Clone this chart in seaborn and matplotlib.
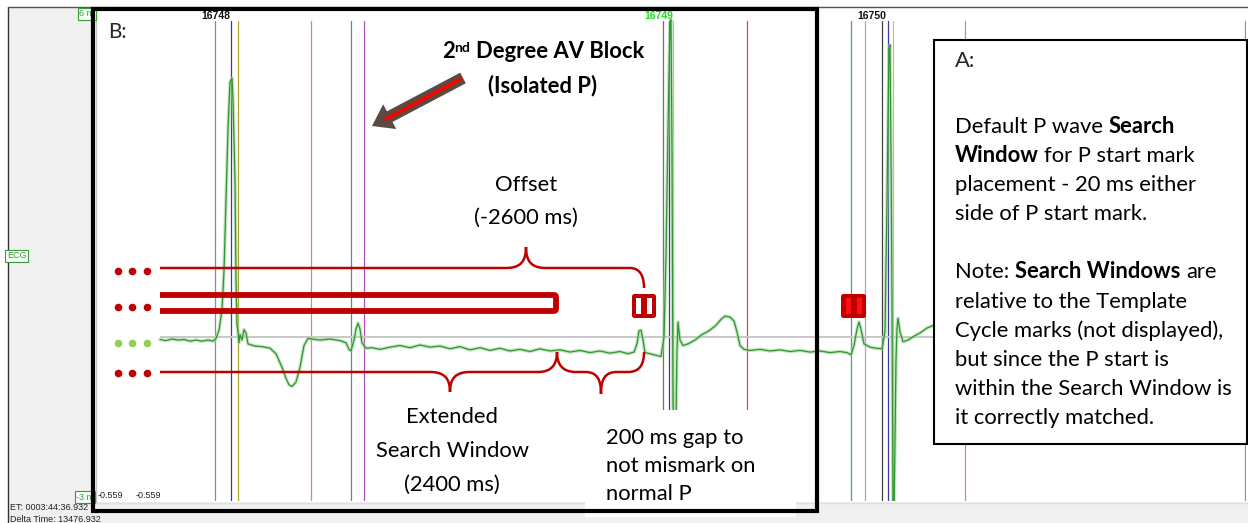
import matplotlib
matplotlib.use("Agg")
import matplotlib.pyplot as plt
import seaborn as sns
from matplotlib.patches import Rectangle, FancyBboxPatch, FancyArrow, PathPatch
from matplotlib.path import Path

sns.set_style("white")
plt.rcParams['font.family'] = ['Lato', 'DejaVu Sans']

# ---------------- data ----------------
# ECG trace: sample position (screen time units) and amplitude in mV
ecg_t = [160, 166, 172, 178, 184, 190, 196, 202, 208, 213,
         216, 219, 222, 224, 226, 228, 230, 232, 233, 235,
         236, 237, 238, 239, 240, 242, 244, 246, 248, 255,
         262, 270, 276, 282, 286, 289, 292, 296, 300, 304,
         308, 312, 320, 330, 340, 346, 349, 351, 354, 356,
         358, 360, 362, 366, 372, 380, 390, 400, 410, 420,
         430, 440, 450, 460, 470, 480, 490, 500, 510, 520,
         530, 540, 550, 560, 570, 580, 590, 600, 610, 620,
         628, 634, 637, 639, 641, 643, 645, 650, 656, 661,
         664, 666, 668, 670, 671, 672, 673, 674, 675, 676,
         677, 678, 680, 683, 688, 695, 702, 709, 716, 721,
         725, 730, 734, 737, 740, 744, 750, 760, 770, 780,
         790, 800, 810, 820, 830, 840, 847, 851, 854, 857,
         859, 861, 864, 870, 876, 882, 885, 887, 888, 889,
         890, 891, 892, 893, 894, 895, 896, 897, 898, 900,
         903, 908, 914, 920, 927, 936]
ecg_mv = [-0.04, -0.06, -0.03, -0.05, -0.04, -0.07, -0.05, -0.07, -0.05, -0.07,
          -0.02, 0.13, 0.50, 1.22, 2.51, 3.80, 4.68, 4.75, 4.35, 2.88,
          1.05, 0.23, 0.10, -0.10, 0.05, -0.05, 0.14, 0.08, -0.12, -0.16,
          -0.17, -0.20, -0.30, -0.55, -0.75, -0.87, -0.90, -0.82, -0.55, -0.15,
          -0.02, -0.03, -0.05, -0.03, -0.06, -0.10, -0.22, -0.25, -0.05, 0.15,
          0.26, 0.15, -0.10, -0.20, -0.19, -0.22, -0.18, -0.15, -0.19, -0.14,
          -0.18, -0.16, -0.21, -0.17, -0.23, -0.19, -0.24, -0.20, -0.25, -0.22,
          -0.26, -0.21, -0.25, -0.23, -0.27, -0.24, -0.28, -0.25, -0.29, -0.26,
          -0.30, -0.27, -0.12, 0.12, 0.13, -0.05, -0.28, -0.30, -0.33, -0.35,
          0.00, 1.50, 3.80, 5.78, 5.82, 3.40, -1.15, -3.20, -3.20, -1.50,
          -0.25, 0.28, -0.05, -0.15, -0.12, -0.05, 0.05, 0.12, 0.22, 0.33,
          0.39, 0.37, 0.30, 0.10, -0.15, -0.22, -0.24, -0.22, -0.25, -0.23,
          -0.26, -0.24, -0.27, -0.25, -0.28, -0.26, -0.28, -0.32, -0.15, 0.15,
          0.28, 0.15, -0.12, -0.18, -0.20, -0.21, 0.10, 2.50, 4.00, 5.30,
          5.36, 3.40, 0.68, -3.20, -3.20, -1.88, -0.41, 0.17, 0.35, 0.10,
          -0.08, -0.05, 0.02, 0.08, 0.17, 0.24]

beat_ids = ["16748", "16749", "16750"]
beat_t = [216, 659, 872]
beat_colors = ["#111111", "#22dd22", "#111111"]

mark_t = [215, 231, 238, 311, 351, 364, 663, 669, 673, 747,
          851, 865, 882, 888, 893, 965, 1245]
mark_colors = ["#8c8c8c", "#3a3aa0", "#b0a030", "#d08888", "#3a9a9a", "#b050c0",
               "#707070", "#3a3aa0", "#c8c080", "#c05050", "#4a9a9a", "#c890d8",
               "#404040", "#3a3aa0", "#c0c080", "#d08888", "#909090"]

row_colors = ["#c00000", "#c00000", "#92d050", "#c00000"]

box_a_lines = [
    [("Default P wave ", False), ("Search", True)],
    [("Window", True), (" for P start mark", False)],
    [("placement - 20 ms either", False)],
    [("side of P start mark.", False)],
    [],
    [("Note: ", False), ("Search Windows", True), (" are", False)],
    [("relative to the Template", False)],
    [("Cycle marks (not displayed),", False)],
    [("but since the P start is", False)],
    [("within the Search Window is", False)],
    [("it correctly matched.", False)],
]

RED = "#c00000"
FS = 15.8

fig = plt.figure(figsize=(12.48, 5.23), dpi=100)
R = fig.canvas.get_renderer()

# background axes in screen pixels
bg = fig.add_axes([0, 0, 1, 1], zorder=0)
bg.set_xlim(0, 1248)
bg.set_ylim(523, 0)
bg.axis("off")
bg.add_patch(Rectangle((8, 7), 84, 516, fc="#f0f0f0", ec="none"))
bg.plot([8, 8], [7, 523], color="#333333", lw=1)
bg.plot([8, 1248], [7, 7], color="#555555", lw=1)
bg.add_patch(Rectangle((92, 502), 1156, 21, fc="#f0f0f0", ec="none"))
bg.plot([92, 1248], [502.5, 502.5], color="#e0e0e0", lw=1)
bg.plot([95.5, 95.5], [8, 502], color="#c8c8c8", lw=1)

# ECG axes
ecg = fig.add_axes([97 / 1248, 22 / 523, (1246 - 97) / 1248, 491 / 523], zorder=1)
ecg.set_facecolor("none")
ecg.set_xlim(97, 1246)
ecg.set_ylim(-3, 6)
ecg.axis("off")
for t, c in zip(mark_t, mark_colors):
    ecg.axvline(t, ymin=0.0, ymax=0.978, color=c, lw=0.9)
ecg.hlines(0, 160, 1246, color="#c8c8c8", lw=1.4)
sns.lineplot(x=ecg_t, y=ecg_mv, ax=ecg, color="#9fd59a", lw=2.6, alpha=0.6,
             sort=False, estimator=None)
sns.lineplot(x=ecg_t, y=ecg_mv, ax=ecg, color="#2f962f", lw=0.9,
             sort=False, estimator=None)

# overlay axes (screen pixels)
ov = fig.add_axes([0, 0, 1, 1], zorder=2)
ov.set_facecolor("none")
ov.set_xlim(0, 1248)
ov.set_ylim(523, 0)
ov.axis("off")

for bid, t, c in zip(beat_ids, beat_t, beat_colors):
    ov.text(t, 16, bid, ha="center", va="center", fontsize=7.5, fontweight="bold",
            color=c, family="Liberation Sans")

small = dict(fontsize=6.5, family="Liberation Sans")
for s, x, y in [("6 m", 87, 14), ("-3 m", 85, 497), ("ECG", 16.5, 256)]:
    ov.text(x, y, s, ha="center", va="center", color="#3a9a3a", **small,
            bbox=dict(boxstyle="square,pad=0.15", fc="#f6fff6", ec="#3a9a3a", lw=0.8))
ov.text(98, 496, "-0.559", va="center", color="#222222", **small)
ov.text(136, 496, "-0.559", va="center", color="#222222", **small)
ov.text(10, 508, "ET: 0003:44:36.932", va="center", color="#222222", **small)
ov.text(10, 519, "Delta Time: 13476.932", va="center", color="#222222", **small)


def space_w(size, bold):
    w = "bold" if bold else "normal"
    a = ov.text(0, 0, "x x", fontsize=size, fontweight=w)
    b = ov.text(0, 0, "xx", fontsize=size, fontweight=w)
    d = a.get_window_extent(R).width - b.get_window_extent(R).width
    a.remove()
    b.remove()
    return d


def text_runs(x, y, parts, ha="left"):
    objs = []
    cur = x
    for p in parts:
        s, bold = p[0], p[1]
        size = p[2] if len(p) > 2 else FS
        dy = p[3] if len(p) > 3 else 0
        lead = len(s) - len(s.lstrip(" "))
        trail = len(s) - len(s.rstrip(" "))
        cur += lead * space_w(size, bold)
        t = ov.text(cur, y + dy, s.strip(" "), fontsize=size, va="baseline", ha="left",
                    fontweight="bold" if bold else "normal", color="black", zorder=6)
        cur += t.get_window_extent(R).width + trail * space_w(size, bold)
        objs.append(t)
    if ha == "center":
        shift = (cur - x) / 2
        for t in objs:
            px, py = t.get_position()
            t.set_position((px - shift, py))


# white patch behind the "200 ms" text
ov.add_patch(Rectangle((585, 410), 211, 107, fc="white", ec="none", zorder=3))
# frame B
ov.add_patch(Rectangle((92.5, 8.5), 724, 502, fill=False, ec="black", lw=3, zorder=5))
# box A
ov.add_patch(Rectangle((934, 40), 313, 404, fc="white", ec="black", lw=1.5, zorder=5))

ov.text(108, 38, "B:", fontsize=15, va="baseline", zorder=6)
ov.text(955, 67, "A:", fontsize=FS, va="baseline", zorder=6)
for i, line in enumerate(box_a_lines):
    if line:
        text_runs(955, 133 + i * 29.1, line)

text_runs(543, 58, [("2", True), ("nd", True, 10, -6.5), (" Degree AV Block", True)], ha="center")
text_runs(543, 92, [("(Isolated P)", True)], ha="center")
for s, y in [("Offset", 191), ("(-2600 ms)", 224)]:
    text_runs(526, y, [(s, False)], ha="center")
for s, y in [("Extended", 423), ("Search Window", 457), ("(2400 ms)", 491)]:
    text_runs(452, y, [(s, False)], ha="center")
for s, y in [("200 ms gap to", 444), ("not mismark on", 472), ("normal P", 500)]:
    text_runs(606, y, [(s, False)])

# arrow
ov.add_patch(FancyArrow(463, 78, -91, 48, width=12, head_width=28, head_length=20,
                        length_includes_head=True, fc="#594a42", ec="none", zorder=4))
ov.plot([460, 386], [79.5, 119], color="#ff0000", lw=2.6, solid_capstyle="round", zorder=4)

# row dots
for y, c in zip([271, 307, 343, 373], row_colors):
    ov.scatter([118, 132, 147], [y] * 3, s=30, color=c, zorder=4, linewidths=0)

# offset brace
M, L, C = Path.MOVETO, Path.LINETO, Path.CURVE4
verts = [(160, 268), (506, 268), (520, 268), (526, 262), (526, 247),
         (526, 262), (532, 268), (546, 268), (630, 268),
         (640, 268), (644, 276), (644, 288)]
codes = [M, L, C, C, C, C, C, C, L, C, C, C]
ov.add_patch(PathPatch(Path(verts, codes), fill=False, ec=RED, lw=1.8, zorder=4))

# lower braces
verts = [(160, 372), (430, 372), (444, 372), (450, 378), (450, 392),
         (450, 378), (456, 372), (470, 372), (538, 372),
         (552, 372), (557, 364), (557, 352),
         (557, 364), (562, 372), (576, 372), (585, 372),
         (597, 372), (601, 379), (601, 394),
         (601, 379), (605, 372), (617, 372), (628, 372),
         (640, 372), (644, 364), (644, 352)]
codes = [M, L, C, C, C, C, C, C, L, C, C, C, C, C, C, L, C, C, C, C, C, C, L, C, C, C]
ov.add_patch(PathPatch(Path(verts, codes), fill=False, ec=RED, lw=1.8, zorder=4))

# extended search window bar (open at the left)
verts = [(160, 295), (552, 295), (556, 295), (556, 295), (556, 299),
         (556, 307), (556, 311), (556, 311), (552, 311), (160, 311)]
codes = [M, L, C, C, C, L, C, C, C, L]
ov.add_patch(PathPatch(Path(verts, codes), fill=False, ec=RED, lw=4.2,
                       joinstyle="round", zorder=4))

# P search window markers
ov.add_patch(FancyBboxPatch((632, 294), 24, 24, boxstyle="round,pad=0,rounding_size=2.5",
                            fc=RED, ec="none", zorder=4))
ov.add_patch(Rectangle((636, 298), 5, 15.5, fc="white", ec="none", zorder=4))
ov.add_patch(Rectangle((647, 298), 5, 15.5, fc="white", ec="none", zorder=4))
ov.add_patch(FancyBboxPatch((841, 294), 25, 24, boxstyle="round,pad=0,rounding_size=2.5",
                            fc=RED, ec="none", zorder=4))
ov.add_patch(Rectangle((846, 297.5), 5, 16.5, fc="#ff1010", ec="none", zorder=4))
ov.add_patch(Rectangle((857, 297.5), 5, 16.5, fc="#ff1010", ec="none", zorder=4))

fig.savefig("out.png", dpi=100)
